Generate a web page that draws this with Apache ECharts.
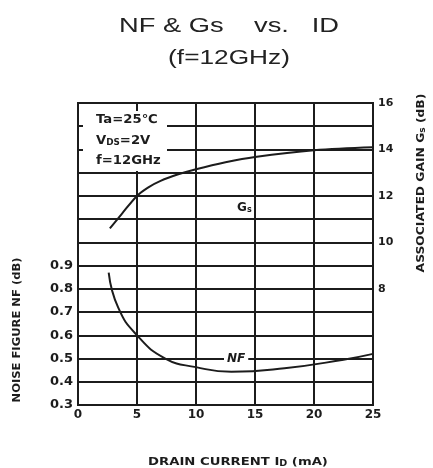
<!DOCTYPE html>
<html>
<head>
<meta charset="utf-8">
<script src="https://cdn.jsdelivr.net/npm/echarts@6/dist/echarts.min.js"></script>
<style>
  html, body { margin: 0; padding: 0; background: #fff; }
  #chart { width: 433px; height: 468px; }
</style>
</head>
<body>
<div id="chart"></div>
<script>
// Associated gain Gs (dB) versus drain current ID (mA)
const gsCurrent = [2.7, 3.7, 5, 6, 7, 8.5, 10, 12.5, 15, 20, 25];
const gsGain    = [10.6, 11.22, 12.0, 12.38, 12.65, 12.93, 13.15, 13.45, 13.68, 13.97, 14.1];

// Noise figure NF (dB) versus drain current ID (mA)
const nfCurrent = [2.6, 3.4, 5, 7.4, 10, 13, 17.5, 22.5, 25];
const nfNoise   = [0.87, 0.72, 0.60, 0.50, 0.463, 0.443, 0.458, 0.495, 0.52];

// Labelled ticks on each axis
const currentTicks = [0, 5, 10, 15, 20, 25];
const nfTicks = [0.3, 0.4, 0.5, 0.6, 0.7, 0.8, 0.9];
const gsTicks = [8, 10, 12, 14, 16];

// Measurement conditions
const conditions = ['Ta=25℃', 'V{sub|DS}=2V', 'f=12GHz'];

const INK = '#1c1c1c';
const LABEL_FONT = 'DejaVu Sans';

const pair = (xs, ys) => xs.map((x, i) => [x, ys[i]]);
const subStyle = (size) => ({
  fontFamily: LABEL_FONT, fontWeight: 'bold', fontSize: size, color: INK,
  padding: [4, 0, 0, 0], verticalAlign: 'bottom'
});

const chart = echarts.init(document.getElementById('chart'), null, { renderer: 'canvas' });

chart.setOption({
  backgroundColor: '#fff',
  animation: false,
  grid: {
    left: 78, right: 60, top: 103, bottom: 63,
    outerBoundsMode: 'none', containLabel: false,
    show: true, borderColor: INK, borderWidth: 2, backgroundColor: 'transparent'
  },
  xAxis: {
    type: 'value', min: 0, max: 25, interval: 5,
    axisLine: { show: true, lineStyle: { color: INK, width: 2 } },
    axisTick: { show: false },
    splitLine: { show: true, lineStyle: { color: INK, width: 2 } },
    axisLabel: {
      margin: 4, color: INK, fontFamily: LABEL_FONT, fontWeight: 'bold', fontSize: 12,
      formatter: v => currentTicks.includes(Math.round(v)) ? String(Math.round(v)) : ''
    }
  },
  yAxis: [
    {
      type: 'value', position: 'left', min: 0.3, max: 1.6, interval: 0.1,
      axisLine: { show: true, lineStyle: { color: INK, width: 2 } },
      axisTick: { show: false },
      splitLine: { show: true, lineStyle: { color: INK, width: 2 } },
      axisLabel: {
        margin: 5, color: INK, fontFamily: LABEL_FONT, fontWeight: 'bold', fontSize: 13,
        formatter: v => nfTicks.some(t => Math.abs(t - v) < 1e-6) ? v.toFixed(1) : ''
      }
    },
    {
      type: 'value', position: 'right', min: 3, max: 16, interval: 1,
      axisLine: { show: true, lineStyle: { color: INK, width: 2 } },
      axisTick: { show: false },
      splitLine: { show: false },
      axisLabel: {
        margin: 5, color: INK, fontFamily: LABEL_FONT, fontWeight: 'bold', fontSize: 11,
        formatter: v => gsTicks.some(t => Math.abs(t - v) < 1e-6) ? String(Math.round(v)) : ''
      }
    }
  ],
  series: [
    {
      name: 'Gs', type: 'line', yAxisIndex: 1,
      data: pair(gsCurrent, gsGain),
      smooth: 0.35, showSymbol: false, symbol: 'none',
      lineStyle: { color: INK, width: 2 },
      markPoint: {
        symbol: 'rect', symbolSize: 0,
        label: {
          show: true, position: 'inside', formatter: 'G{sub|s}',
          color: INK, fontFamily: LABEL_FONT, fontWeight: 'bold', fontSize: 12,
          rich: { sub: subStyle(8) }
        },
        data: [{ coord: [14.1, 11.5] }]
      }
    },
    {
      name: 'NF', type: 'line', yAxisIndex: 0,
      data: pair(nfCurrent, nfNoise),
      smooth: 0.5, showSymbol: false, symbol: 'none',
      lineStyle: { color: INK, width: 2 },
      markPoint: {
        symbol: 'rect', symbolSize: 0,
        label: {
          show: true, position: 'inside', formatter: 'NF',
          color: INK, fontFamily: LABEL_FONT, fontWeight: 'bold', fontStyle: 'italic', fontSize: 12,
          backgroundColor: '#fff', padding: [1, 3, 0, 3]
        },
        data: [{ coord: [13.4, 0.5] }]
      }
    }
  ],
  graphic: [
    // chart title
    {
      type: 'text', x: 229, y: 26, scaleX: 1.3, z: 10,
      style: {
        text: 'NF & Gs    vs.   ID', fill: '#222',
        font: '21px "Liberation Sans", Arial, sans-serif',
        textAlign: 'center', textVerticalAlign: 'middle'
      }
    },
    {
      type: 'text', x: 229, y: 58, scaleX: 1.25, z: 10,
      style: {
        text: '(f=12GHz)', fill: '#222',
        font: '21px "Liberation Sans", Arial, sans-serif',
        textAlign: 'center', textVerticalAlign: 'middle'
      }
    },
    // bottom axis title
    {
      type: 'text', x: 238, y: 462, scaleX: 1.2, z: 10,
      style: {
        text: 'DRAIN CURRENT I{sub|D} (mA)', fill: INK,
        fontFamily: LABEL_FONT, fontWeight: 'bold', fontSize: 11,
        rich: { sub: subStyle(8) },
        textAlign: 'center', textVerticalAlign: 'middle'
      }
    },
    // left axis title
    {
      type: 'text', x: 17, y: 330, rotation: Math.PI / 2, scaleX: 1.05, z: 10,
      style: {
        text: 'NOISE FIGURE NF (dB)', fill: INK,
        fontFamily: LABEL_FONT, fontWeight: 'bold', fontSize: 11,
        textAlign: 'center', textVerticalAlign: 'middle'
      }
    },
    // right axis title
    {
      type: 'text', x: 421, y: 183, rotation: Math.PI / 2, scaleX: 1.12, z: 10,
      style: {
        text: 'ASSOCIATED GAIN G{sub|s} (dB)', fill: INK,
        fontFamily: LABEL_FONT, fontWeight: 'bold', fontSize: 11,
        rich: { sub: subStyle(8) },
        textAlign: 'center', textVerticalAlign: 'middle'
      }
    },
    // conditions box
    {
      type: 'rect', z: 50,
      shape: { x: 83, y: 111, width: 84, height: 60 },
      style: { fill: '#fff' }
    },
    ...conditions.map((t, i) => ({
      type: 'text', z: 51, x: 96, y: 120 + i * 20.5, scaleX: 1.1,
      style: {
        text: t, fill: INK, fontFamily: LABEL_FONT, fontWeight: 'bold', fontSize: 12,
        rich: { sub: subStyle(8) },
        textAlign: 'left', textVerticalAlign: 'middle'
      }
    }))
  ]
});
</script>
</body>
</html>
